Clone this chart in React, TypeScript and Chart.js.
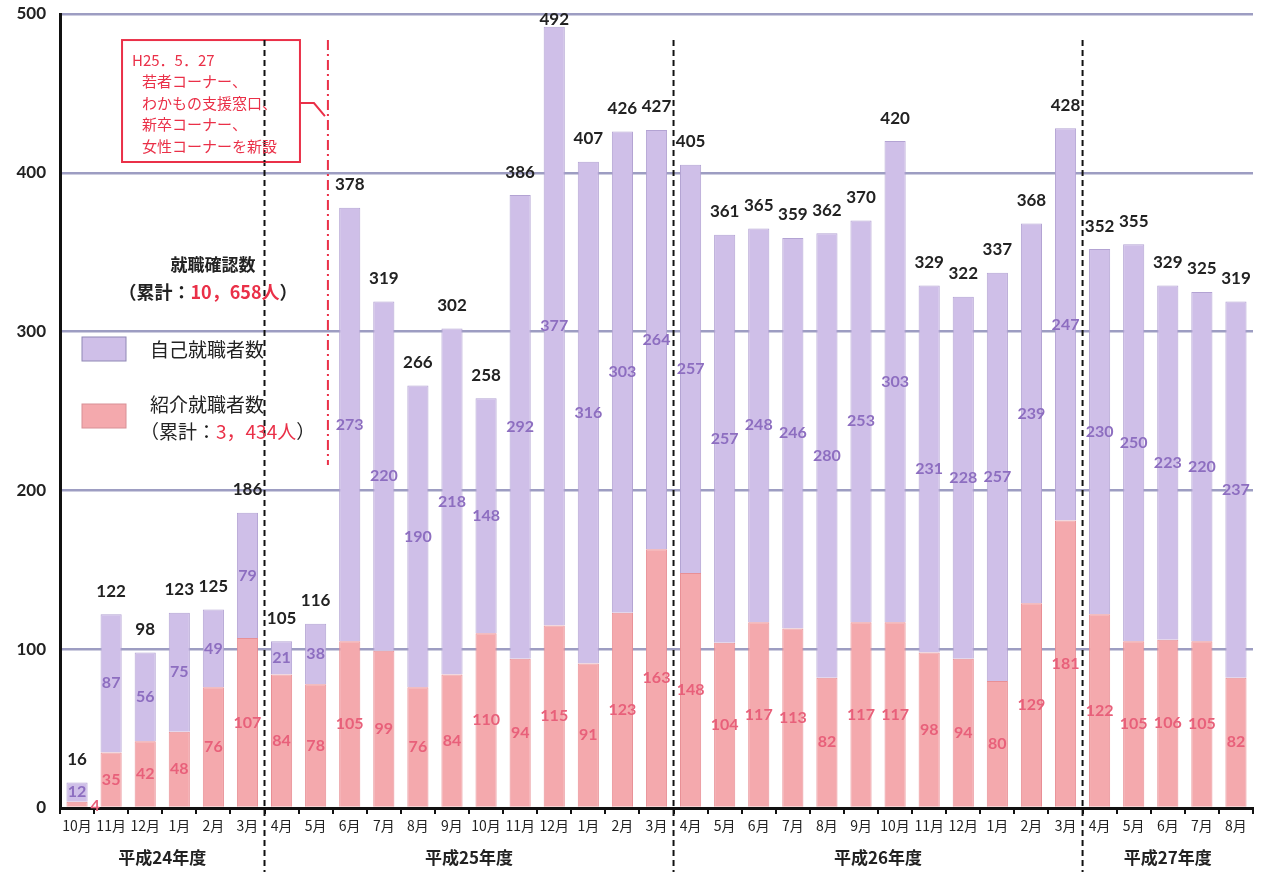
import React, { useEffect, useRef } from 'react';
import { Chart, registerables } from 'chart.js';

Chart.register(...registerables);

const months = [
  '10月', '11月', '12月', '1月', '2月', '3月',
  '4月', '5月', '6月', '7月', '8月', '9月', '10月', '11月', '12月', '1月', '2月', '3月',
  '4月', '5月', '6月', '7月', '8月', '9月', '10月', '11月', '12月', '1月', '2月', '3月',
  '4月', '5月', '6月', '7月', '8月',
];
const selfCounts = [
  12, 87, 56, 75, 49, 79,
  21, 38, 273, 220, 190, 218, 148, 292, 377, 316, 303, 264,
  257, 257, 248, 246, 280, 253, 303, 231, 228, 257, 239, 247,
  230, 250, 223, 220, 237,
];
const referralCounts = [
  4, 35, 42, 48, 76, 107,
  84, 78, 105, 99, 76, 84, 110, 94, 115, 91, 123, 163,
  148, 104, 117, 113, 82, 117, 117, 98, 94, 80, 129, 181,
  122, 105, 106, 105, 82,
];
const totals = [
  16, 122, 98, 123, 125, 186,
  105, 116, 378, 319, 266, 302, 258, 386, 492, 407, 426, 427,
  405, 361, 365, 359, 362, 370, 420, 329, 322, 337, 368, 428,
  352, 355, 329, 325, 319,
];
const fiscalYears = ['平成24年度', '平成25年度', '平成26年度', '平成27年度'];
const fiscalYearStart = [0, 6, 18, 30];
const fiscalYearEnd = [5, 17, 29, 34];
const yearDividers = [5.5, 17.5, 29.5];
const eventDivider = 7.36;
const noteLines = ['H25．5．27', '若者コーナー、', 'わかもの支援窓口、', '新卒コーナー、', '女性コーナーを新設'];

const NUM_FONT = 'Lato, "Noto Sans CJK JP", sans-serif';
const JP_FONT = '"Noto Sans CJK JP", sans-serif';
const PURPLE = '#cfbfe8';
const PURPLE_BORDER = '#b3a3d3';
const PINK = '#f4a9ad';
const PINK_BORDER = '#e88f95';
const PURPLE_TEXT = '#8d6ec0';
const PINK_TEXT = '#e8607a';
const RED = '#ea3048';

const overlay = {
  id: 'overlay',
  afterDatasetsDraw(chart: any) {
    const ctx = chart.ctx as CanvasRenderingContext2D;
    const xs = chart.scales.x;
    const ys = chart.scales.y;
    const ca = chart.chartArea;
    const metaRef = chart.getDatasetMeta(0);
    const metaSelf = chart.getDatasetMeta(1);
    ctx.save();
    ctx.textAlign = 'center';
    ctx.textBaseline = 'middle';

    // values
    for (let i = 0; i < totals.length; i++) {
      const r = metaRef.data[i];
      const s = metaSelf.data[i];
      ctx.font = `bold 16px ${NUM_FONT}`;
      ctx.fillStyle = PINK_TEXT;
      const rh = r.base - r.y;
      if (rh < 14) {
        ctx.textAlign = 'left';
        ctx.fillText(String(referralCounts[i]), r.x + r.width / 2 + 3, (r.y + r.base) / 2 + 2);
        ctx.textAlign = 'center';
      } else {
        ctx.fillText(String(referralCounts[i]), r.x, (r.y + r.base) / 2);
      }
      ctx.fillStyle = PURPLE_TEXT;
      ctx.fillText(String(selfCounts[i]), s.x, (s.y + s.base) / 2);
      ctx.font = `bold 17px ${NUM_FONT}`;
      ctx.fillStyle = '#222';
      const ty = Math.max(ys.getPixelForValue(totals[i]) - 23, 20);
      ctx.fillText(String(totals[i]), s.x, ty);
    }

    // year dividers
    ctx.strokeStyle = '#111';
    ctx.lineWidth = 2;
    ctx.setLineDash([6, 4]);
    const topY = ys.getPixelForValue(483.6);
    for (const d of yearDividers) {
      const x = xs.getPixelForValue(d);
      ctx.beginPath();
      ctx.moveTo(x, topY);
      ctx.lineTo(x, chart.height);
      ctx.stroke();
    }

    // event divider (dash-dot)
    ctx.strokeStyle = RED;
    ctx.setLineDash([10, 4, 2, 4]);
    const ex = xs.getPixelForValue(eventDivider);
    ctx.beginPath();
    ctx.moveTo(ex, topY);
    ctx.lineTo(ex, ys.getPixelForValue(216));
    ctx.stroke();
    ctx.setLineDash([]);

    // note box
    const bl = xs.getPixelForValue(1.32);
    const br = xs.getPixelForValue(6.54);
    const bt = ys.getPixelForValue(483.6);
    const bb = ys.getPixelForValue(406.8);
    ctx.fillStyle = '#fff';
    ctx.fillRect(bl, bt, br - bl, bb - bt);
    ctx.strokeStyle = RED;
    ctx.lineWidth = 2;
    ctx.strokeRect(bl, bt, br - bl, bb - bt);
    ctx.beginPath();
    ctx.moveTo(br, bt + 63);
    ctx.lineTo(br + 14, bt + 63);
    ctx.lineTo(ex - 3, bt + 76);
    ctx.stroke();
    ctx.strokeStyle = '#111';
    ctx.setLineDash([6, 4]);
    const d0 = xs.getPixelForValue(yearDividers[0]);
    ctx.beginPath();
    ctx.moveTo(d0, bt);
    ctx.lineTo(d0, bb);
    ctx.stroke();
    ctx.setLineDash([]);
    ctx.fillStyle = RED;
    ctx.font = `15px ${JP_FONT}`;
    ctx.textAlign = 'left';
    noteLines.forEach((t, k) => {
      ctx.fillText(t, bl + (k === 0 ? 10 : 20), bt + 20 + k * 21.5);
    });

    // legend
    const lx = ca.left;
    const ly = ca.top;
    ctx.textAlign = 'center';
    ctx.fillStyle = '#222';
    ctx.font = `bold 17px ${JP_FONT}`;
    ctx.fillText('就職確認数', lx + 153, ly + 251);
    const drawParts = (parts: [string, string][], cx: number, cy: number, font: string, align: string) => {
      ctx.font = font;
      const w = parts.reduce((a, p) => a + ctx.measureText(p[0]).width, 0);
      let x = align === 'center' ? cx - w / 2 : cx;
      ctx.textAlign = 'left';
      for (const [t, c] of parts) {
        ctx.fillStyle = c;
        ctx.fillText(t, x, cy);
        x += ctx.measureText(t).width;
      }
    };
    drawParts([['（累計：', '#222'], ['10，658人', RED], ['）', '#222']], lx + 148, ly + 278, `bold 18px ${JP_FONT}`, 'center');

    ctx.fillStyle = PURPLE;
    ctx.strokeStyle = '#8f88b5';
    ctx.lineWidth = 1;
    ctx.fillRect(lx + 22, ly + 323, 44, 24);
    ctx.strokeRect(lx + 22, ly + 323, 44, 24);
    ctx.fillStyle = PINK;
    ctx.strokeStyle = '#d89096';
    ctx.fillRect(lx + 22, ly + 390, 44, 24);
    ctx.strokeRect(lx + 22, ly + 390, 44, 24);
    ctx.fillStyle = '#222';
    ctx.font = `19px ${JP_FONT}`;
    ctx.textAlign = 'left';
    ctx.fillText('自己就職者数', lx + 90, ly + 336);
    ctx.fillText('紹介就職者数', lx + 90, ly + 391);
    drawParts([['（累計：', '#222'], ['3，434人', RED], ['）', '#222']], lx + 80, ly + 418, `19px ${JP_FONT}`, 'left');

    // fiscal year labels
    ctx.textAlign = 'center';
    ctx.fillStyle = '#222';
    ctx.font = `bold 17px ${JP_FONT}`;
    fiscalYears.forEach((fy, k) => {
      const cx = (xs.getPixelForValue(fiscalYearStart[k]) + xs.getPixelForValue(fiscalYearEnd[k])) / 2;
      ctx.fillText(fy, cx, chart.height - 14);
    });
    ctx.restore();
  },
};

export default function App() {
  const ref = useRef<HTMLCanvasElement | null>(null);
  useEffect(() => {
    if (!ref.current) return;
    const chart = new Chart(ref.current, {
      type: 'bar',
      data: {
        labels: months,
        datasets: [
          {
            label: '紹介就職者数',
            data: referralCounts,
            backgroundColor: PINK,
            borderColor: PINK_BORDER,
            borderWidth: 1,
            barPercentage: 0.62,
            categoryPercentage: 1,
          },
          {
            label: '自己就職者数',
            data: selfCounts,
            backgroundColor: PURPLE,
            borderColor: PURPLE_BORDER,
            borderWidth: 1,
            barPercentage: 0.62,
            categoryPercentage: 1,
          },
        ],
      },
      options: {
        animation: false,
        responsive: false,
        maintainAspectRatio: false,
        layout: { padding: { left: 0, top: 14, right: 12, bottom: 0 } },
        plugins: { legend: { display: false }, tooltip: { enabled: false } },
        scales: {
          x: {
            stacked: true,
            offset: true,
            grid: { display: true, drawOnChartArea: false, drawTicks: true, tickLength: 6, color: '#111', lineWidth: 2, offset: true },
            border: { color: '#111', width: 3 },
            ticks: { color: '#222', font: { size: 14, family: JP_FONT }, padding: 3, maxRotation: 0, autoSkip: false },
            afterFit: (s: any) => { s.height = 64; },
          },
          y: {
            stacked: true,
            min: 0,
            max: 500,
            ticks: { stepSize: 100, color: '#222', font: { size: 17, weight: 'bold', family: NUM_FONT }, padding: 0 },
            grid: { color: '#9d9dc2', lineWidth: 2.5, drawTicks: true, tickLength: 14, tickColor: 'rgba(0,0,0,0)' },
            border: { color: '#111', width: 3 },
            afterFit: (s: any) => { s.width = 60; },
          },
        },
      },
      plugins: [overlay],
    } as any);
    return () => chart.destroy();
  }, []);
  return (
    <div style={{ position: 'fixed', left: 0, top: 0, width: 1265, height: 872, background: '#fff' }}>
      <canvas ref={ref} width={1265} height={872} style={{ width: 1265, height: 872 }} />
    </div>
  );
}
